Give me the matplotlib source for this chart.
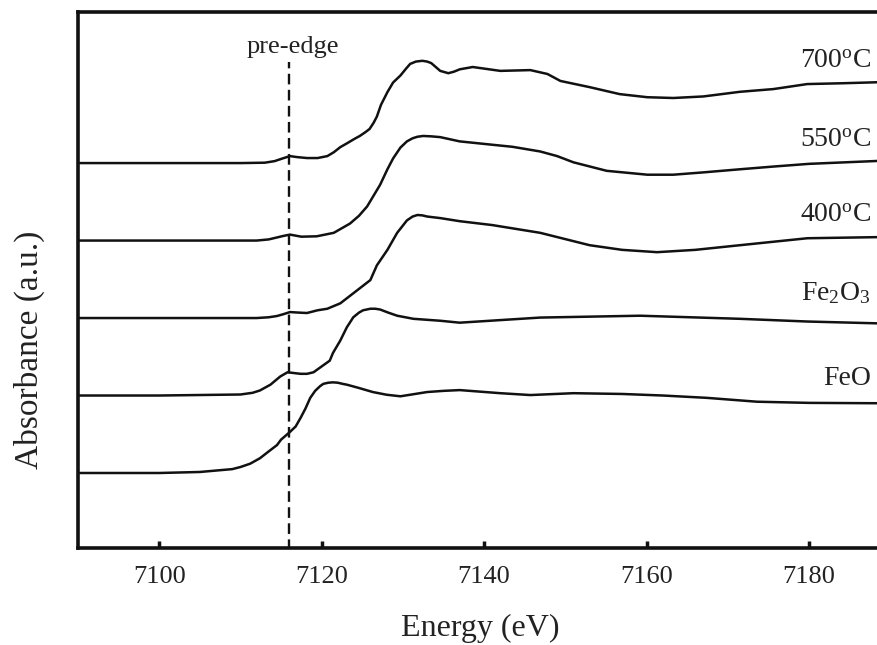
import matplotlib
matplotlib.use("Agg")
import matplotlib.pyplot as plt
import numpy as np

plt.rcParams["font.family"] = ["Liberation Serif", "DejaVu Serif"]
plt.rcParams["mathtext.fontset"] = "custom"
plt.rcParams["mathtext.rm"] = "Liberation Serif"
plt.rcParams["mathtext.it"] = "Liberation Serif:italic"

# Normalized Fe K-edge XANES spectra (energy in eV, absorbance in a.u.)
feo_e = [7090, 7100, 7105, 7109, 7110, 7111.2, 7112.4, 7113.5, 7114.5, 7115.0,
         7116.1, 7116.8, 7117.4, 7118.0, 7118.6, 7119.2, 7119.8, 7120.2, 7120.8,
         7121.4, 7122.0, 7122.6, 7123.1, 7124.5, 7126.3, 7128.0, 7129.7, 7131.5,
         7133.0, 7135.0, 7137.0, 7142.0, 7145.7, 7151.0, 7157.0, 7162.0, 7167.4,
         7173.6, 7180.0, 7189.0]
feo_mu = [0.0, 0.0, 0.013, 0.05, 0.077, 0.12, 0.19, 0.28, 0.36, 0.43,
          0.53, 0.60, 0.71, 0.83, 0.97, 1.06, 1.12, 1.15, 1.165,
          1.17, 1.165, 1.15, 1.14, 1.10, 1.045, 1.01, 0.99, 1.02,
          1.045, 1.06, 1.07, 1.03, 1.006, 1.03, 1.02, 1.00, 0.97,
          0.92, 0.905, 0.90]

fe2o3_e = [7090, 7100, 7110, 7111.5, 7112.4, 7113.7, 7114.9, 7115.8, 7116.6,
           7117.4, 7118.2, 7119.0, 7120.2, 7121.0, 7121.4, 7122.3, 7123.1, 7123.9,
           7124.6, 7125.1, 7126.0, 7126.6, 7127.2, 7128.2, 7129.3, 7131.3, 7134.6,
           7137.0, 7146.9, 7159.2, 7171.5, 7179.8, 7189.0]
fe2o3_mu = [0.0, 0.0, 0.013, 0.035, 0.065, 0.14, 0.245, 0.30, 0.29,
            0.28, 0.28, 0.30, 0.39, 0.45, 0.55, 0.71, 0.88, 1.01,
            1.07, 1.10, 1.12, 1.12, 1.11, 1.07, 1.03, 0.99, 0.965,
            0.94, 1.006, 1.03, 0.99, 0.955, 0.93]

c400_e = [7090, 7100, 7112, 7113.5, 7114.5, 7115.3, 7116.1, 7117.2, 7118.2,
          7119.5, 7120.7, 7122.3, 7124.4, 7126.0, 7126.8, 7128.1, 7129.3, 7130.5,
          7131.2, 7131.8, 7132.4, 7133.0, 7134.6, 7137.0, 7141.0, 7146.9, 7153.0,
          7157.0, 7161.3, 7166.0, 7171.5, 7179.8, 7189.0]
c400_mu = [0.0, 0.0, 0.0, 0.01, 0.026, 0.05, 0.077, 0.07, 0.065,
           0.10, 0.12, 0.19, 0.36, 0.49, 0.68, 0.88, 1.10, 1.26,
           1.31, 1.33, 1.325, 1.31, 1.29, 1.25, 1.20, 1.10, 0.94,
           0.88, 0.85, 0.88, 0.94, 1.03, 1.045]

c550_e = [7090, 7100, 7112, 7113.5, 7114.5, 7115.3, 7116.1, 7117.5, 7119.4,
          7121.5, 7123.5, 7124.6, 7125.6, 7126.4, 7127.2, 7128.1, 7128.8, 7129.7,
          7130.5, 7131.2, 7131.8, 7132.5, 7133.5, 7134.6, 7137.0, 7140.7, 7143.5,
          7146.9, 7149.0, 7151.0, 7155.1, 7160.1, 7163.3, 7167.0, 7171.5, 7175.6,
          7180.0, 7189.0]
c550_mu = [0.0, 0.0, 0.0, 0.015, 0.04, 0.06, 0.077, 0.05, 0.055,
           0.10, 0.22, 0.32, 0.44, 0.58, 0.72, 0.92, 1.06, 1.20,
           1.28, 1.32, 1.34, 1.35, 1.345, 1.335, 1.28, 1.24, 1.21,
           1.15, 1.09, 1.01, 0.90, 0.85, 0.85, 0.88, 0.92, 0.955,
           0.99, 1.03]

c700_e = [7090, 7100, 7110, 7113.0, 7114.2, 7115.2, 7116.1, 7117.0, 7118.2,
          7119.5, 7120.7, 7121.5, 7122.3, 7123.2, 7124.0, 7124.7, 7125.4, 7125.9,
          7126.4, 7126.8, 7127.3, 7128.1, 7128.8, 7129.7, 7130.4, 7130.9, 7131.6,
          7132.4, 7133.0, 7133.5, 7134.6, 7135.6, 7136.3, 7137.0, 7138.6, 7142.0,
          7145.7, 7147.8, 7149.4, 7153.0, 7156.7, 7160.1, 7163.3, 7167.0, 7171.5,
          7175.6, 7179.8, 7184.0, 7189.0]
c700_mu = [0.0, 0.0, 0.0, 0.005, 0.025, 0.06, 0.09, 0.077, 0.065,
           0.065, 0.09, 0.14, 0.206, 0.26, 0.31, 0.35, 0.40, 0.44,
           0.52, 0.60, 0.75, 0.916, 1.04, 1.13, 1.22, 1.28, 1.31,
           1.32, 1.31, 1.29, 1.19, 1.16, 1.18, 1.21, 1.24, 1.19,
           1.20, 1.15, 1.06, 0.98, 0.89, 0.85, 0.84, 0.86, 0.92,
           0.955, 1.02, 1.03, 1.045]

# Vertical offsets used to stack the spectra
labels = ["FeO", "Fe$_2$O$_3$", "400$^{\\mathrm{o}}$C", "550$^{\\mathrm{o}}$C", "700$^{\\mathrm{o}}$C"]
offsets = [0.0, 1.0, 2.0, 3.0, 4.0]
label_y = [1.135, 2.23, 3.24, 4.21, 5.23]

pre_edge_energy = 7116.0
x_ticks = [7100, 7120, 7140, 7160, 7180]

series = [(feo_e, feo_mu), (fe2o3_e, fe2o3_mu), (c400_e, c400_mu),
          (c550_e, c550_mu), (c700_e, c700_mu)]

fig = plt.figure(figsize=(8.78, 6.45), dpi=100)
ax = fig.add_axes([0.0888, 0.1504, 0.9112, 0.831])

for (e, mu), off in zip(series, offsets):
    ax.plot(e, np.asarray(mu) + off, color="#111111", lw=1.8,
            solid_joinstyle="round", solid_capstyle="round")

for lab, y in zip(labels, label_y):
    ax.text(7187.6, y, lab, ha="right", va="baseline", fontsize=20, color="#222222")

ax.plot([pre_edge_energy, pre_edge_energy], [-1.0, 5.30], color="#111111",
        lw=1.7, dashes=(4.5, 2.3))
ax.text(pre_edge_energy + 0.5, 5.50, "pre-edge", ha="center", va="center",
        fontsize=19, color="#222222")

ax.set_xlim(7090, 7188.5)
ax.set_ylim(-0.968, 5.95)
ax.set_xticks(x_ticks)
ax.set_yticks([])
ax.tick_params(axis="x", direction="in", length=5, width=2.5, labelsize=19,
               pad=13, colors="#111111", labelcolor="#222222")
for side in ["left", "bottom", "top"]:
    ax.spines[side].set_linewidth(2.6)
    ax.spines[side].set_color("#111111")
ax.spines["right"].set_visible(False)

ax.set_xlabel("Energy (eV)", fontsize=23, color="#222222")
ax.xaxis.set_label_coords(0.503, -0.123)
ax.set_ylabel("Absorbance (a.u.)", fontsize=24, color="#222222")
ax.yaxis.set_label_coords(-0.041, 0.37)

fig.savefig("out.png", dpi=100)
